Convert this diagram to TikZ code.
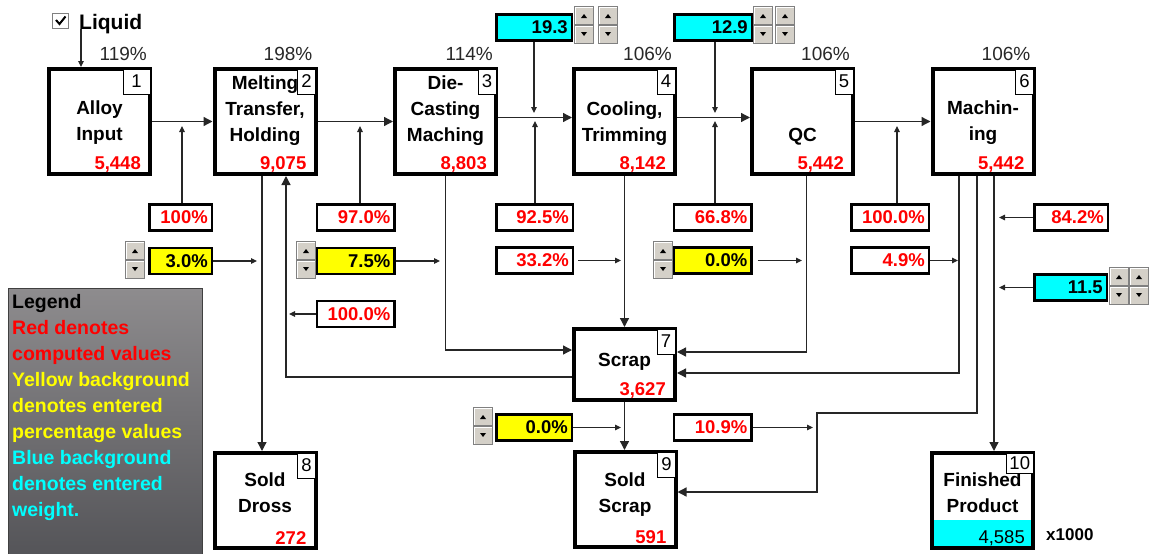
\documentclass[tikz,border=0pt]{standalone}
\usepackage{fontspec}
\setmainfont{Liberation Sans}
\usetikzlibrary{arrows.meta,calc}
\definecolor{flowred}{RGB}{255,0,0}
\definecolor{flowyellow}{RGB}{255,255,0}
\definecolor{flowcyan}{RGB}{0,255,255}
\definecolor{pctgray}{RGB}{40,40,40}
\definecolor{btnface}{RGB}{212,208,200}
\definecolor{btnshade}{RGB}{128,128,128}
\definecolor{legtop}{RGB}{142,140,142}
\definecolor{legbot}{RGB}{84,84,88}
\newcommand\flowboxfont{\fontsize{19}{26}\selectfont\bfseries}
\newcommand\flownumfont{\fontsize{18.5}{22}\selectfont\bfseries}
\newcommand\flowtagfont{\fontsize{18.5}{20}\selectfont}
\newcommand\flowpctfont{\fontsize{19}{22}\selectfont}
\newcommand\flowlegfont{\fontsize{19.5}{25.9}\selectfont\bfseries}
\tikzset{
    procbox/.style={draw,line width=4pt,fill=white,minimum width=101pt,minimum height=105pt,inner sep=0pt},
    endbox/.style={procbox,minimum height=95pt},
    tagbox/.style={draw,line width=0.9pt,fill=white,font=\flowtagfont,minimum width=18pt,minimum height=25pt,inner xsep=3pt,inner ysep=0pt,anchor=north east},
    procname/.style={font=\flowboxfont,align=center,inner sep=0pt,anchor=north},
    procval/.style={font=\flownumfont,text=flowred,inner sep=0pt,anchor=base east},
    pctlabel/.style={font=\flowpctfont,text=pctgray,inner sep=0pt,anchor=base east},
    valbox/.style={draw,line width=2.5pt,minimum height=26pt,text width=#1,align=right,inner xsep=4pt,inner ysep=0pt,font=\flownumfont},
    calcbox/.style={valbox=#1,fill=white,text=flowred},
    pctentry/.style={valbox=#1,fill=flowyellow},
    wtentry/.style={valbox=#1,fill=flowcyan},
    legendtext/.style={font=\flowlegfont,align=left,anchor=north west,inner sep=0pt},
    flowline/.style={-{Triangle[length=9pt,width=9pt]},line width=1.3pt,draw=black!85},
    feedline/.style={-{Triangle[length=6pt,width=5.5pt]},line width=1.1pt,draw=black!85},
    updown/.pic={
        \foreach \dy in {0,19}{
            \filldraw[fill=btnface,draw=btnshade,line width=0.8pt] (0.4,\dy+0.4) rectangle (19.6,\dy+18.6);
            \draw[white,line width=0.8pt] (1.2,\dy+17.8) -- (1.2,\dy+1.2) -- (18.8,\dy+1.2);
        }
        \fill (7,12) -- (13,12) -- (10,8) -- cycle;
        \fill (7,26) -- (13,26) -- (10,30) -- cycle;
    }
}

\begin{document}
\begin{tikzpicture}[x=1pt,y=-1pt]
    \useasboundingbox (0,0) rectangle (1149,554);
    % legend
    \shade[top color=legtop,bottom color=legbot,draw=black!75,line width=1pt] (8,288) rectangle (202,557);
    \node[legendtext] (legend) at (12,294.5) {Legend\\
        \textcolor{flowred}{Red denotes}\\
        \textcolor{flowred}{computed values}\\
        \textcolor{flowyellow}{Yellow background}\\
        \textcolor{flowyellow}{denotes entered}\\
        \textcolor{flowyellow}{percentage values}\\
        \textcolor{flowcyan}{Blue background}\\
        \textcolor{flowcyan}{denotes entered}\\
        \textcolor{flowcyan}{weight.}};

    % liquid check box
    \draw[draw=btnshade,fill=white,line width=1.2pt] (52.5,13.5) rectangle (68.5,28.5);
    \draw[line width=2pt] (56,20) -- (59.5,24) -- (65.5,16.5);
    \node[font=\fontsize{21}{24}\selectfont\bfseries,inner sep=0pt,anchor=base west] (liquid) at (79,29) {Liquid};

    % process boxes
    \node[procbox] (alloy) at (99.5,121.5) {};
    \node[procname] (alloyname) at ([yshift=-34pt]alloy.north) {Alloy\\Input};
    \node[procval] (alloyval) at ([xshift=-11pt,yshift=7pt]alloy.south east) {5,448};
    \node[tagbox,minimum width=27pt] (alloytag) at ([xshift=-1.5pt,yshift=-1.5pt]alloy.north east) {1};
    \node[pctlabel] (alloypct) at ([xshift=-5pt,yshift=7pt]alloy.north east) {119\%};

    \node[procbox] (melt) at (265,121.5) {};
    \node[procname] (meltname) at ([yshift=-9pt]melt.north) {Melting\\Transfer,\\Holding};
    \node[procval] (meltval) at ([xshift=-11pt,yshift=7pt]melt.south east) {9,075};
    \node[tagbox] (melttag) at ([xshift=-1.5pt,yshift=-1.5pt]melt.north east) {2};
    \node[pctlabel] (meltpct) at ([xshift=-5pt,yshift=7pt]melt.north east) {198\%};

    \node[procbox] (cast) at (445.5,121.5) {};
    \node[procname] (castname) at ([yshift=-9pt]cast.north) {Die-\\Casting\\Maching};
    \node[procval] (castval) at ([xshift=-11pt,yshift=7pt]cast.south east) {8,803};
    \node[tagbox] (casttag) at ([xshift=-1.5pt,yshift=-1.5pt]cast.north east) {3};
    \node[pctlabel] (castpct) at ([xshift=-5pt,yshift=7pt]cast.north east) {114\%};

    \node[procbox] (cool) at (624.5,121.5) {};
    \node[procname] (coolname) at ([yshift=-35pt]cool.north) {Cooling,\\Trimming};
    \node[procval] (coolval) at ([xshift=-11pt,yshift=7pt]cool.south east) {8,142};
    \node[tagbox] (cooltag) at ([xshift=-1.5pt,yshift=-1.5pt]cool.north east) {4};
    \node[pctlabel] (coolpct) at ([xshift=-5pt,yshift=7pt]cool.north east) {106\%};

    \node[procbox] (qc) at (802.5,121.5) {};
    \node[procname] (qcname) at ([yshift=-61pt]qc.north) {QC};
    \node[procval] (qcval) at ([xshift=-11pt,yshift=7pt]qc.south east) {5,442};
    \node[tagbox] (qctag) at ([xshift=-1.5pt,yshift=-1.5pt]qc.north east) {5};
    \node[pctlabel] (qcpct) at ([xshift=-5pt,yshift=7pt]qc.north east) {106\%};

    \node[procbox] (mach) at (983,121.5) {};
    \node[procname] (machname) at ([yshift=-34pt]mach.north) {Machin-\\ing};
    \node[procval] (machval) at ([xshift=-11pt,yshift=7pt]mach.south east) {5,442};
    \node[tagbox] (machtag) at ([xshift=-1.5pt,yshift=-1.5pt]mach.north east) {6};
    \node[pctlabel] (machpct) at ([xshift=-5pt,yshift=7pt]mach.north east) {106\%};

    \node[procbox,minimum height=71pt] (scrap) at (624.5,364.5) {};
    \node[procname] (scrapname) at ([yshift=-26pt]scrap.north) {Scrap};
    \node[procval] (scrapval) at ([xshift=-11pt,yshift=7pt]scrap.south east) {3,627};
    \node[tagbox] (scraptag) at ([xshift=-1.5pt,yshift=-1.5pt]scrap.north east) {7};

    \node[endbox] (dross) at (265,500.5) {};
    \node[procname] (drossname) at ([yshift=-22pt]dross.north) {Sold\\Dross};
    \node[procval] (drossval) at ([xshift=-11pt,yshift=6pt]dross.south east) {272};
    \node[tagbox] (drosstag) at ([xshift=-1.5pt,yshift=-1.5pt]dross.north east) {8};

    \node[endbox] (sold) at (625,499.5) {};
    \node[procname] (soldname) at ([yshift=-23pt]sold.north) {Sold\\Scrap};
    \node[procval] (soldval) at ([xshift=-11pt,yshift=6pt]sold.south east) {591};
    \node[tagbox] (soldtag) at ([xshift=-1.5pt,yshift=-1.5pt]sold.north east) {9};

    \node[endbox] (fin) at (982.5,500.5) {};
    \fill[flowcyan] ([xshift=4pt,yshift=4pt]fin.south west) rectangle ([xshift=-4pt,yshift=30pt]fin.south east);
    \node[procname] (finname) at ([yshift=-22pt]fin.north) {Finished\\Product};
    \node[procval,text=black,font=\fontsize{18.5}{22}\selectfont] (finval) at ([xshift=-10pt,yshift=7pt]fin.south east) {4,585};
    \node[tagbox,minimum height=20pt] (fintag) at ([xshift=-1.5pt,yshift=-1.5pt]fin.north east) {10};
    \node[font=\fontsize{17}{20}\selectfont\bfseries,inner sep=0pt,anchor=base west] (finunit) at ([xshift=11pt,yshift=10pt]fin.south east) {x1000};

    % entry and result boxes
    \node[wtentry=67.5pt] (wtcool) at (534,27.5) {19.3};
    \node[wtentry=69.5pt] (wtqc) at (713,27.5) {12.9};
    \node[calcbox=54.5pt] (recmelt) at (180.5,217.5) {100\%};
    \node[calcbox=69.5pt] (reccast) at (355.5,217.5) {97.0\%};
    \node[calcbox=68.5pt] (reccool) at (534.5,217.5) {92.5\%};
    \node[calcbox=69.5pt] (recqc) at (712.5,217.5) {66.8\%};
    \node[calcbox=69.5pt] (recmach) at (890,217.5) {100.0\%};
    \node[calcbox=65.5pt] (shipfin) at (1071,217.5) {84.2\%};
    \node[pctentry=54.5pt] (lossmelt) at (180.5,261) {3.0\%};
    \node[pctentry=69.5pt] (losscast) at (355.5,261) {7.5\%};
    \node[calcbox=68.5pt] (losscool) at (534.5,260.5) {33.2\%};
    \node[pctentry=69.5pt] (lossqc) at (712.5,260.5) {0.0\%};
    \node[calcbox=69.5pt] (lossmach) at (890,260.5) {4.9\%};
    \node[calcbox=69.5pt] (retmelt) at (355.5,314) {100.0\%};
    \node[wtentry=64.5pt] (wtfin) at (1070.5,287.5) {11.5};
    \node[pctentry=67.5pt] (sellscrap) at (534,427.5) {0.0\%};
    \node[calcbox=69.5pt] (machscrap) at (712.5,427.5) {10.9\%};

    % spin buttons
    \pic at (574,6) {updown};
    \pic at (598,6) {updown};
    \pic at (753,6) {updown};
    \pic at (775,6) {updown};
    \pic at (1109,267) {updown};
    \pic at (1129,267) {updown};
    \pic at (125,241) {updown};
    \pic at (296,241) {updown};
    \pic at (653,241) {updown};
    \pic at (473,407) {updown};

    % junction points
    \coordinate (jmelt) at (182,126);
    \coordinate (jcast) at (360,126);
    \coordinate (jcool) at (535,121);
    \coordinate (jcooltop) at (534,113);
    \coordinate (jqc) at (715,121);
    \coordinate (jqctop) at (715,113);
    \coordinate (jmach) at (897,126);
    \coordinate (tdross) at (257,261);
    \coordinate (tcast) at (440,261);
    \coordinate (tcool) at (621,260.5);
    \coordinate (tqc) at (802,260.5);
    \coordinate (tmach) at (958,260.5);
    \coordinate (tret) at (289,314);
    \coordinate (tship) at (999,217.5);
    \coordinate (twt) at (999,287.5);
    \coordinate (tsell) at (621,427.5);
    \coordinate (tmachscrap) at (813,427.5);
    \coordinate (scrapbend) at (817,413);
    \coordinate (liqdrop) at ([xshift=2pt]liquid.base west);

    % main flow
    \draw[feedline] (liqdrop) -- (liqdrop |- alloy.north);
    \draw[flowline] (alloy) -- (melt);
    \draw[flowline] (melt) -- (cast);
    \draw[flowline] ([yshift=4pt]cast.east) -- ([yshift=4pt]cool.west);
    \draw[flowline] ([yshift=4pt]cool.east) -- ([yshift=4pt]qc.west);
    \draw[flowline] (qc) -- (mach);

    % side feeds
    \draw[feedline] (recmelt.north -| jmelt) -- (jmelt);
    \draw[feedline] (reccast.north -| jcast) -- (jcast);
    \draw[feedline] (reccool.north -| jcool) -- (jcool);
    \draw[feedline] (wtcool.south -| jcooltop) -- (jcooltop);
    \draw[feedline] (recqc.north -| jqc) -- (jqc);
    \draw[feedline] (wtqc.south -| jqctop) -- (jqctop);
    \draw[feedline] (recmach.north -| jmach) -- (jmach);
    \draw[feedline] (lossmelt) -- (tdross);
    \draw[feedline] (losscast) -- (tcast);
    \draw[feedline,shorten <=4pt] (losscool) -- (tcool);
    \draw[feedline,shorten <=5pt] (lossqc) -- (tqc);
    \draw[feedline] (lossmach) -- (tmach);
    \draw[feedline] (retmelt) -- (tret);
    \draw[feedline] (shipfin) -- (tship);
    \draw[feedline] (wtfin) -- (twt);
    \draw[feedline] (sellscrap) -- (tsell);
    \draw[feedline] (machscrap) -- (tmachscrap);

    % routes to scrap and outputs
    \draw[flowline] ([xshift=-3pt]melt.south) -- ([xshift=-3pt]melt.south |- dross.north);
    \draw[flowline] ([yshift=-12.5pt]scrap.west) -| ([xshift=21pt]melt.south);
    \draw[flowline] (cast.south) |- ([yshift=14.5pt]scrap.west);
    \draw[flowline] (cool) -- (scrap);
    \draw[flowline] ([xshift=4pt]qc.south) |- ([yshift=12.5pt]scrap.east);
    \draw[flowline] ([xshift=-24pt]mach.south) |- ([yshift=-8.5pt]scrap.east);
    \draw[flowline] ([xshift=-6pt]mach.south) |- (scrapbend) |- ([yshift=7.5pt]sold.east);
    \draw[flowline] ([xshift=11pt]mach.south) -- ([xshift=11pt]mach.south |- fin.north);
    \draw[flowline] (scrap.south) -- (scrap.south |- sold.north);
\end{tikzpicture}
\end{document}
